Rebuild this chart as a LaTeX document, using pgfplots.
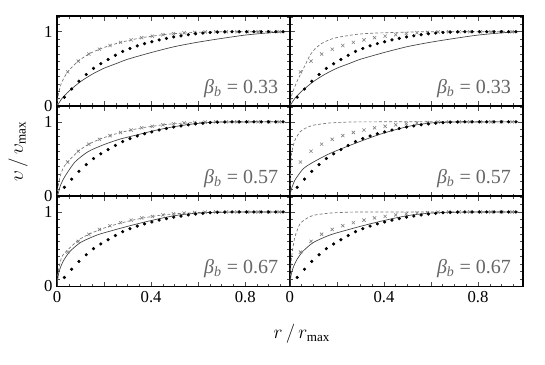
\documentclass[border=0pt]{standalone}
\usepackage{pgfplots}
\pgfplotsset{compat=1.18}
\usepgfplotslibrary{groupplots}
\usepackage{pgfplotstable}
\usepackage{fontspec}
\setmainfont{Liberation Serif}

% measured points (black dots)
\pgfplotstableread{
x y
0.031 0.12
0.062 0.23
0.093 0.335
0.124 0.425
0.155 0.507
0.186 0.57
0.217 0.627
0.248 0.683
0.279 0.735
0.310 0.775
0.341 0.81
0.372 0.84
0.403 0.865
0.434 0.89
0.465 0.91
0.496 0.93
0.527 0.945
0.558 0.96
0.589 0.972
0.620 0.982
0.651 0.99
0.682 0.995
0.713 0.998
0.744 1
0.775 1
0.806 1
0.837 1
0.868 1
0.899 1
0.930 1
0.961 1
}\dotdata

% measured points (crosses)
\pgfplotstableread{
x y
0.045 0.46
0.09 0.605
0.135 0.70
0.18 0.765
0.225 0.815
0.27 0.857
0.315 0.89
0.36 0.92
0.405 0.94
0.45 0.96
0.495 0.975
0.54 0.985
0.585 0.992
0.63 0.997
0.675 1
0.72 1
0.765 1
0.81 1
0.855 1
0.9 1
0.945 1
}\crossdata

% solid lines
\pgfplotstableread{
x y
0 0
0.02 0.1
0.05 0.2
0.1 0.33
0.15 0.43
0.2 0.51
0.25 0.57
0.3 0.63
0.4 0.72
0.5 0.80
0.6 0.86
0.7 0.91
0.8 0.955
0.9 0.985
0.97 1
}\solidA
\pgfplotstableread{
x y
0 0
0.005 0.04
0.015 0.15
0.034 0.27
0.076 0.46
0.132 0.60
0.2 0.695
0.27 0.77
0.34 0.825
0.41 0.88
0.48 0.925
0.55 0.96
0.62 0.985
0.7 0.997
0.97 1
}\solidBL
\pgfplotstableread{
x y
0 0
0.005 0.08
0.021 0.215
0.057 0.37
0.1 0.46
0.17 0.575
0.24 0.665
0.31 0.75
0.38 0.83
0.45 0.895
0.52 0.95
0.6 0.985
0.7 0.997
0.97 1
}\solidBR
\pgfplotstableread{
x y
0 0
0.005 0.15
0.015 0.26
0.03 0.36
0.055 0.47
0.1 0.59
0.17 0.69
0.24 0.755
0.31 0.815
0.38 0.87
0.45 0.92
0.52 0.96
0.6 0.985
0.7 0.997
0.97 1
}\solidC

% dashed lines
\pgfplotstableread{
x y
0 0
0.005 0.15
0.01 0.22
0.02 0.32
0.045 0.46
0.09 0.605
0.135 0.70
0.18 0.765
0.225 0.815
0.27 0.857
0.315 0.89
0.36 0.92
0.405 0.94
0.45 0.96
0.5 0.975
0.6 0.993
0.7 1
0.97 1
}\dashTL
\pgfplotstableread{
x y
0 0
0.005 0.1
0.01 0.17
0.03 0.33
0.057 0.5
0.085 0.68
0.11 0.78
0.142 0.855
0.18 0.905
0.213 0.93
0.284 0.965
0.35 0.98
0.5 0.995
0.6 1
0.97 1
}\dashTR
\pgfplotstableread{
x y
0 0
0.004 0.12
0.013 0.27
0.027 0.385
0.045 0.46
0.09 0.605
0.135 0.70
0.18 0.765
0.225 0.815
0.27 0.857
0.315 0.89
0.36 0.92
0.405 0.94
0.45 0.96
0.5 0.975
0.6 0.993
0.7 1
0.97 1
}\dashML
\pgfplotstableread{
x y
0 0
0.003 0.3
0.007 0.57
0.021 0.75
0.043 0.865
0.07 0.92
0.1 0.955
0.17 0.985
0.25 0.997
0.35 1
0.97 1
}\dashMR
\pgfplotstableread{
x y
0 0
0.002 0.12
0.0056 0.215
0.02 0.395
0.045 0.49
0.09 0.62
0.135 0.70
0.18 0.76
0.225 0.81
0.27 0.85
0.315 0.885
0.36 0.915
0.405 0.94
0.45 0.96
0.5 0.975
0.6 0.993
0.7 1
0.97 1
}\dashBL
\pgfplotstableread{
x y
0 0
0.003 0.2
0.007 0.39
0.021 0.66
0.043 0.84
0.07 0.91
0.1 0.955
0.17 0.985
0.25 0.997
0.35 1
0.97 1
}\dashBR

\pgfplotsset{
  panel/.style={scale only axis, width=174.4pt, height=67.5pt,
    xmin=0, xmax=0.99, ymin=0, ymax=1.211,
    xtick={0,0.2,0.4,0.6,0.8}, minor xtick={0.05,0.1,...,0.96},
    ytick={0,1}, minor ytick={0.1,0.2,...,1.2},
    tick align=inside, major tick length=3.5pt, minor tick length=2pt,
    tick style={black!70, line width=0.4pt},
    axis line style={line width=1.2pt},
    ticklabel style={font=\fontsize{12.5}{12.5}\selectfont},
    /pgf/number format/assume math mode=true,
    xticklabels={}, yticklabels={}},
  solidl/.style={draw=black!75, line width=0.5pt, no marks, smooth, tension=0.4},
  dashl/.style={draw=black!55, line width=0.5pt, dash pattern=on 2.2pt off 1.6pt, no marks, smooth, tension=0.4},
  dotm/.style={only marks, mark=*, mark size=1.0pt, black},
  crossm/.style={only marks, mark=x, mark size=1.7pt, mark options={draw=black!50, line width=0.45pt}},
}
\tikzset{blab/.style={font=\fontsize{15}{15}\selectfont, text=black!60, anchor=east}}
\newcommand{\bb}[1]{\textit{β}\textsubscript{\textit{b}} = #1}

\begin{document}
\begin{tikzpicture}
\begin{groupplot}[group style={group size=2 by 3, horizontal sep=0pt, vertical sep=0pt}, panel]
% row 1
\nextgroupplot[yticklabels={0,1}]
\addplot[dashl] table {\dashTL};
\addplot[solidl] table {\solidA};
\addplot[crossm] table {\crossdata};
\addplot[dotm] table {\dotdata};
\node[blab] at (rel axis cs:0.97,0.2) {\bb{0.33}};
\nextgroupplot
\addplot[dashl] table {\dashTR};
\addplot[solidl] table {\solidA};
\addplot[crossm] table {\crossdata};
\addplot[dotm] table {\dotdata};
\node[blab] at (rel axis cs:0.97,0.2) {\bb{0.33}};
% row 2
\nextgroupplot[yticklabels={0,1}]
\addplot[dashl] table {\dashML};
\addplot[solidl] table {\solidBL};
\addplot[crossm] table {\crossdata};
\addplot[dotm] table {\dotdata};
\node[blab] at (rel axis cs:0.97,0.2) {\bb{0.57}};
\nextgroupplot
\addplot[dashl] table {\dashMR};
\addplot[solidl] table {\solidBR};
\addplot[crossm] table {\crossdata};
\addplot[dotm] table {\dotdata};
\node[blab] at (rel axis cs:0.97,0.2) {\bb{0.57}};
% row 3
\nextgroupplot[yticklabels={0,1}, xticklabels={0,,0.4,,0.8}]
\addplot[dashl] table {\dashBL};
\addplot[solidl] table {\solidC};
\addplot[crossm] table {\crossdata};
\addplot[dotm] table {\dotdata};
\node[blab] at (rel axis cs:0.97,0.2) {\bb{0.67}};
\nextgroupplot[xticklabels={0,,0.4,,0.8}]
\addplot[dashl] table {\dashBR};
\addplot[solidl] table {\solidC};
\addplot[crossm] table {\crossdata};
\addplot[dotm] table {\dotdata};
\node[blab] at (rel axis cs:0.97,0.2) {\bb{0.67}};
\end{groupplot}
\node[rotate=90, font=\fontsize{14}{14}\selectfont] at ([xshift=-29.25pt]group c1r2.west) {$\upsilon\,/\,\upsilon_{\mathrm{max}}$};
\node[font=\fontsize{14}{14}\selectfont] at ([xshift=9pt, yshift=-35.25pt]group c1r3.south east) {$r\,/\,r_{\mathrm{max}}$};
\path[use as bounding box] ([shift={(-42.75pt,-58.5pt)}]group c1r3.south west) rectangle ([shift={(16.7pt,12pt)}]group c2r1.north east);
\end{tikzpicture}
\end{document}
